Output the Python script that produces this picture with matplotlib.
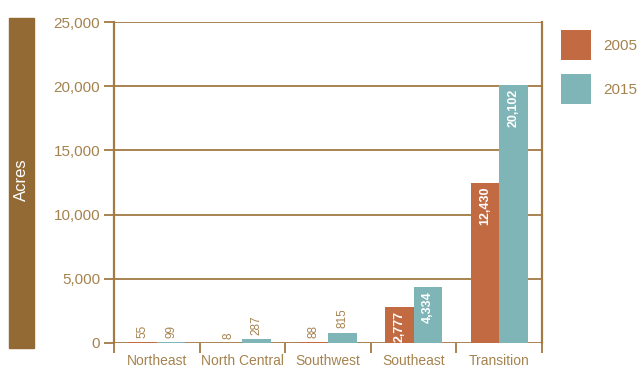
"""Acreage by region, 2005 vs 2015 grouped bar chart."""

import matplotlib
matplotlib.use("Agg")
import matplotlib.pyplot as plt
import numpy as np
from matplotlib import font_manager
from matplotlib.patches import Patch, Rectangle

# Narrow sans preferred, fall back to regular Liberation / DejaVu
selected_font = "DejaVu Sans"
for candidate in ["Liberation Sans Narrow", "Liberation Sans", "DejaVu Sans"]:
    try:
        font_manager.findfont(candidate, fallback_to_default=False)
        selected_font = candidate
        break
    except ValueError:
        continue
plt.rcParams["font.family"] = [selected_font, "DejaVu Sans"]

# -----------------------------------------------------------------------------
# Data
# -----------------------------------------------------------------------------
regions = ["Northeast", "North Central", "Southwest", "Southeast", "Transition"]
acres_2005 = [55, 8, 88, 2777, 12430]
acres_2015 = [99, 287, 815, 4334, 20102]
years = ["2005", "2015"]
y_ticks = [0, 5000, 10000, 15000, 20000, 25000]

# -----------------------------------------------------------------------------
# Style
# -----------------------------------------------------------------------------
RUST = "#c26b43"
TEAL = "#7fb5b7"
BROWN = "#936a33"
LINE = "#a27a43"
TEXT = "#a5834f"

W, H = 642, 371
fig = plt.figure(figsize=(W / 100, H / 100), dpi=100, facecolor="white")

left, right, top, bottom = 114, 542, 22, 343
ax = fig.add_axes([left / W, 1 - bottom / H, (right - left) / W, (bottom - top) / H])

x = np.arange(len(regions))
bar_w = 0.335
bars05 = ax.bar(x - bar_w / 2, acres_2005, width=bar_w, color=RUST, zorder=3)
bars15 = ax.bar(x + bar_w / 2, acres_2015, width=bar_w, color=TEAL, zorder=3)

ax.set_xlim(-0.5, len(regions) - 0.5)
ax.set_ylim(0, 25000)

# horizontal rules at each tick
for yv in y_ticks:
    ax.axhline(yv, color=LINE, linewidth=1.3, zorder=1)

for name in ("top", "bottom"):
    ax.spines[name].set_visible(False)
for name in ("left", "right"):
    ax.spines[name].set_color(LINE)
    ax.spines[name].set_linewidth(1.6)

ax.set_yticks(y_ticks)
ax.set_yticklabels([f"{v:,}" for v in y_ticks])
ax.tick_params(axis="y", length=7, width=1.3, color=LINE, labelsize=11,
               labelcolor=TEXT, pad=3)

# category boundaries as ticks, names centred below each group
ax.set_xticks(np.arange(-0.5, len(regions), 1.0))
ax.set_xticklabels([])
ax.tick_params(axis="x", length=7, width=1.3, color=LINE)
ax.set_xticks(x, minor=True)
ax.set_xticklabels(regions, minor=True)
ax.tick_params(axis="x", which="minor", length=0, labelsize=10,
               labelcolor=TEXT, pad=8)

# value labels: small values above the bar, large ones inside it
for bars, vals in ((bars05, acres_2005), (bars15, acres_2015)):
    for b, v in zip(bars, vals):
        cx = b.get_x() + b.get_width() / 2
        if v < 1000:
            ax.annotate(f"{v:,}", (cx, v), xytext=(0, 3),
                        textcoords="offset points", rotation=90,
                        ha="center", va="bottom", fontsize=8.5, color=TEXT)
        else:
            ax.annotate(f"{v:,}", (cx, v), xytext=(0, -2.5),
                        textcoords="offset points", rotation=90,
                        ha="center", va="top", fontsize=9,
                        fontweight="bold", color="white", zorder=4)

# y-axis title box
fig.patches.append(Rectangle((9 / W, 1 - 348 / H), 25 / W, 330 / H,
                             transform=fig.transFigure, color=BROWN))
fig.text(21.5 / W, 1 - 180 / H, "Acres", rotation=90, ha="center",
         va="center", color="white", fontsize=12)

# legend swatches ~30 px square, 44 px apart
handles = [Patch(facecolor=RUST, edgecolor="none"),
           Patch(facecolor=TEAL, edgecolor="none")]
fig.legend(handles, years, loc="upper left",
           bbox_to_anchor=(561 / W, 1 - 30 / H), frameon=False,
           borderpad=0, borderaxespad=0, handlelength=1.96,
           handleheight=2.64, handletextpad=0.8, labelspacing=0.92,
           fontsize=11, labelcolor=TEXT)

fig.savefig("out.png", dpi=100, facecolor="white")
